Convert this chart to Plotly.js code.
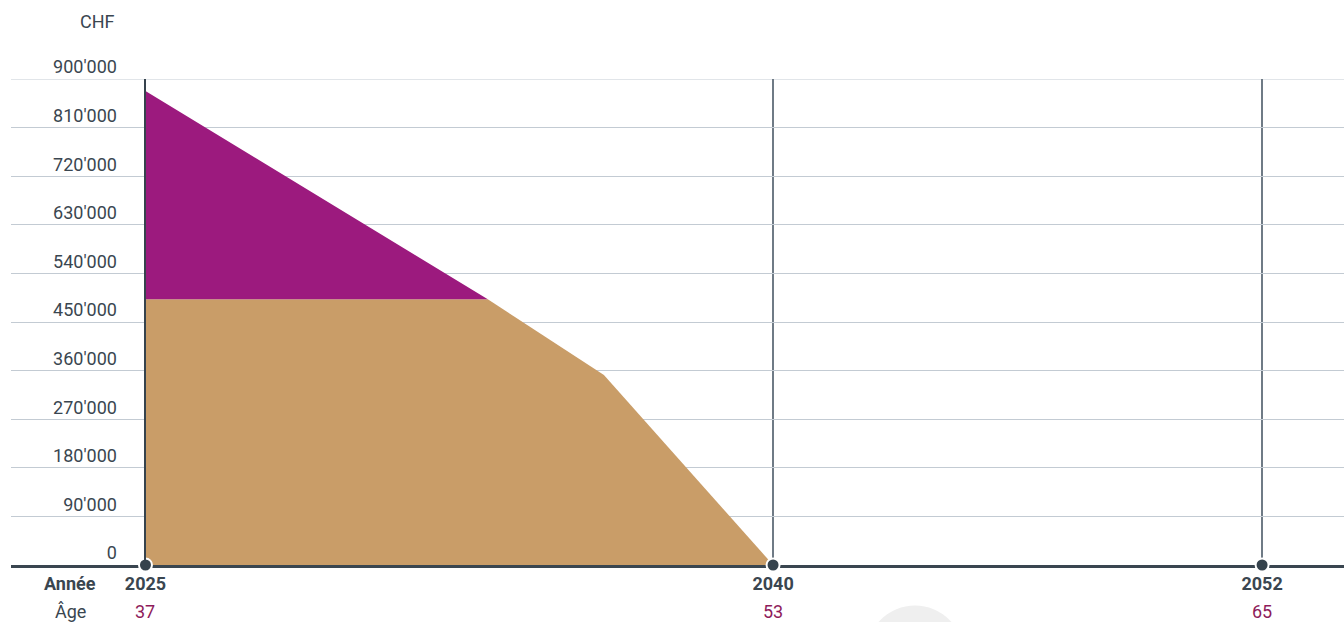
<!DOCTYPE html>
<html>
<head>
<meta charset="utf-8">
<script src="https://cdn.plot.ly/plotly-3.0.1.min.js"></script>
<style>html,body{margin:0;padding:0;background:#fff;}#chart{width:1344px;height:622px;}</style>
</head>
<body>
<div id="chart"></div>
<script>
// ---- data ----
const yearLabels = ['2025', '2040', '2052'];
const yearPos = [2024.6, 2040, 2052];
const ageLabels = ['37', '53', '65'];
const seriesX = [2024.6, 2033.0, 2035.85, 2040];
const baseValues = [492000, 492000, 352000, 0];      // tan
const topValues = [386000, 0, 0, 0];                   // purple (stacked)
const yTickVals = [0, 90000, 180000, 270000, 360000, 450000, 540000, 630000, 720000, 810000, 900000];
const yTickText = ["0", "90'000", "180'000", "270'000", "360'000", "450'000", "540'000", "630'000", "720'000", "810'000", "900'000"];

// ---- layout constants ----
const W = 1344, H = 622;
const mL = 11, mR = 0, mT = 79, mB = 57;
const xRange = [2021.30, 2054.01];
const plotW = W - mL - mR, plotH = H - mT - mB;
const pxX = px => (px - mL) / plotW;           // pixel -> paper x
const pxY = py => (H - mB - py) / plotH;       // pixel -> paper y
const dataToPaperX = v => (v - xRange[0]) / (xRange[1] - xRange[0]);

const textColor = '#3a4650';
const ageColor = '#8e1b5b';
const gridColor = '#c3cbd3';

const traces = [
  {
    x: seriesX, y: baseValues, type: 'scatter', mode: 'lines',
    stackgroup: 'one', line: {width: 0}, fillcolor: '#c99d68',
    hoverinfo: 'skip'
  },
  {
    x: seriesX, y: topValues, type: 'scatter', mode: 'lines',
    stackgroup: 'one', line: {width: 0}, fillcolor: '#9c1a7e',
    hoverinfo: 'skip'
  },
  {
    x: yearPos, y: yearPos.map(() => 0), type: 'scatter', mode: 'markers',
    marker: {size: 13, color: '#36434d', line: {color: '#ffffff', width: 2}},
    cliponaxis: false, hoverinfo: 'skip'
  }
];

const annotations = [
  {text: 'CHF', xref: 'paper', yref: 'paper', x: pxX(117), y: pxY(22), xanchor: 'right', yanchor: 'middle', showarrow: false, font: {family: 'Roboto', size: 18, color: textColor}},
  {text: '<b>Année</b>', xref: 'paper', yref: 'paper', x: pxX(70), y: pxY(583), xanchor: 'center', yanchor: 'middle', showarrow: false, font: {family: 'Roboto', size: 18, color: textColor}},
  {text: 'Âge', xref: 'paper', yref: 'paper', x: pxX(70), y: pxY(611), xanchor: 'center', yanchor: 'middle', showarrow: false, font: {family: 'Roboto', size: 18, color: textColor}}
];
ageLabels.forEach((a, i) => {
  annotations.push({text: a, xref: 'x', yref: 'paper', x: yearPos[i], y: pxY(611), xanchor: 'center', yanchor: 'middle', showarrow: false, font: {family: 'Roboto', size: 18, color: ageColor}});
});

const topTick = yTickVals[yTickVals.length - 1];

const layout = {
  width: W, height: H,
  margin: {l: mL, r: mR, t: mT, b: mB, pad: 0},
  paper_bgcolor: '#ffffff', plot_bgcolor: '#ffffff',
  showlegend: false,
  font: {family: 'Roboto', size: 18, color: textColor},
  xaxis: {
    range: xRange, fixedrange: true, automargin: false,
    tickvals: yearPos, ticktext: yearLabels.map(t => '<b>' + t + '</b>'),
    ticks: '', showgrid: true, gridcolor: '#6f7b86', gridwidth: 2,
    showline: true, linecolor: '#3a4650', linewidth: 3,
    zeroline: false, layer: 'below traces',
    tickfont: {family: 'Roboto', size: 18, color: textColor}
  },
  yaxis: {
    range: [0, topTick], fixedrange: true, automargin: false,
    anchor: 'free', position: dataToPaperX(yearPos[0]), side: 'left',
    tickvals: yTickVals, ticktext: yTickText,
    ticks: '', showgrid: true, gridcolor: gridColor, gridwidth: 1,
    showline: true, linecolor: '#36434d', linewidth: 2,
    zeroline: false, layer: 'above traces',
    ticklabelstandoff: 24, ticklabelshift: -12,
    tickfont: {family: 'Roboto', size: 18, color: textColor}
  },
  shapes: [
    {type: 'line', xref: 'paper', yref: 'y', layer: 'below',
     x0: 0, x1: 1, y0: topTick, y1: topTick,
     line: {color: gridColor, width: 1}},
    {type: 'circle', xref: 'paper', yref: 'paper', layer: 'below',
     x0: pxX(866.5), x1: pxX(963.5), y0: pxY(702.5), y1: pxY(605.5),
     fillcolor: '#efefef', line: {width: 0}}
  ],
  annotations: annotations
};

Plotly.newPlot('chart', traces, layout, {displayModeBar: false, staticPlot: true});
</script>
</body>
</html>
